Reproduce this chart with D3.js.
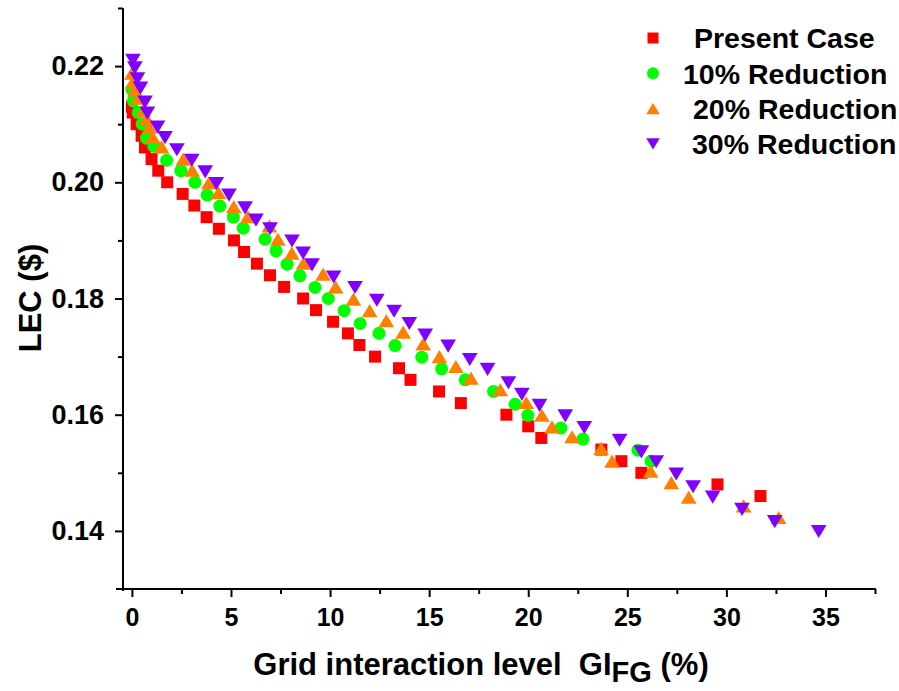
<!DOCTYPE html>
<html lang="en">
<head>
<meta charset="UTF-8"/>
<title>LEC vs grid interaction level</title>
<script src="https://cdn.jsdelivr.net/npm/d3@7"></script>
<style>
    html, body { margin: 0; background: #fff; }
    svg text { font-family: "Liberation Sans", Arial, sans-serif; font-weight: bold; fill: #000; }
    .axis path, .axis line { stroke: #000; stroke-width: 2; }
</style>
</head>
<body>
<div id="chart"></div>
<script>
    // series labels and colours
    const seriesNames = ["Present Case", "10% Reduction", "20% Reduction", "30% Reduction"];
    const seriesColors = ["#ff0000", "#00ff00", "#ff8000", "#8000ff"];
    const seriesShapes = ["square", "circle", "up", "down"];

    // values: GI_FG (%) and LEC ($)
    const presentX = [0, 0.04, 0.24, 0.49, 0.66, 0.99, 1.33, 1.78, 2.56, 3.15, 3.77, 4.39, 5.15, 5.66, 6.31,
        6.97, 7.68, 8.64, 9.29, 10.15, 10.9, 11.48, 12.27, 13.48, 14.06, 15.5, 16.6, 18.9, 20.0, 20.66,
        23.69, 24.7, 25.71, 29.55, 31.72];
    const presentY = [0.213, 0.212, 0.210, 0.208, 0.206, 0.204, 0.202, 0.200, 0.198, 0.196, 0.194, 0.192,
        0.190, 0.188, 0.186, 0.184, 0.182, 0.180, 0.178, 0.176, 0.174, 0.172, 0.170, 0.168, 0.166, 0.164,
        0.162, 0.160, 0.158, 0.156, 0.154, 0.152, 0.150, 0.148, 0.146];

    const red10X = [0, 0.07, 0.32, 0.52, 0.74, 1.11, 1.75, 2.47, 3.18, 3.80, 4.44, 5.12, 5.62, 6.72, 7.27,
        7.83, 8.48, 9.24, 9.91, 10.71, 11.52, 12.47, 13.28, 14.63, 15.63, 16.82, 18.25, 19.34, 19.98,
        21.65, 22.76, 25.54, 26.20];
    const red10Y = [0.216, 0.214, 0.212, 0.210, 0.2076, 0.2062, 0.2038, 0.2020, 0.2000, 0.1978, 0.1959,
        0.1940, 0.1921, 0.1902, 0.1882, 0.1859, 0.1839, 0.1819, 0.1800, 0.1779, 0.1757, 0.1740, 0.1719,
        0.1699, 0.1679, 0.1660, 0.1640, 0.1618, 0.1599, 0.1577, 0.1558, 0.1539, 0.1520];

    const red20X = [0, 0.05, 0.15, 0.32, 0.57, 0.74, 0.88, 1.05, 1.50, 2.59, 3.04, 3.88, 4.37, 5.14, 5.85,
        6.94, 7.37, 8.07, 8.66, 9.65, 10.28, 11.18, 12.0, 12.84, 13.69, 14.70, 15.52, 16.35, 17.11, 18.59,
        19.9, 20.69, 21.2, 22.21, 23.68, 24.23, 26.18, 27.22, 28.1, 30.87, 32.64];
    const red20Y = [0.2188, 0.2173, 0.2159, 0.2145, 0.2124, 0.2110, 0.2095, 0.2078, 0.2061, 0.2040, 0.2021,
        0.1999, 0.1982, 0.1958, 0.1941, 0.1925, 0.1902, 0.1878, 0.1861, 0.1842, 0.1820, 0.1799, 0.1779,
        0.1762, 0.1742, 0.1722, 0.1700, 0.1683, 0.1663, 0.1643, 0.1621, 0.1599, 0.1579, 0.1562, 0.1542,
        0.1520, 0.1503, 0.1483, 0.1458, 0.1443, 0.1423];

    const red30X = [0.05, 0.15, 0.28, 0.43, 0.66, 0.78, 1.29, 1.67, 2.27, 3.02, 3.70, 4.26, 4.90, 5.71, 6.26,
        6.97, 8.08, 8.64, 9.09, 10.18, 11.26, 12.36, 13.23, 14.0, 14.80, 15.96, 17.05, 17.95, 19.0, 19.68,
        20.57, 21.87, 22.83, 24.61, 25.71, 26.46, 27.47, 28.32, 29.31, 30.79, 32.44, 34.66];
    const red30Y = [0.2210, 0.2197, 0.2178, 0.2162, 0.2138, 0.2119, 0.2095, 0.2077, 0.2056, 0.2038, 0.2018,
        0.1998, 0.1978, 0.1956, 0.1935, 0.1920, 0.1899, 0.1878, 0.1858, 0.1837, 0.1819, 0.1797, 0.1778,
        0.1757, 0.1737, 0.1718, 0.1695, 0.1678, 0.1655, 0.1635, 0.1616, 0.1598, 0.1578, 0.1556, 0.1536,
        0.1519, 0.1498, 0.1476, 0.1458, 0.1437, 0.1416, 0.1399];

    const xMajorTicks = [0, 5, 10, 15, 20, 25, 30, 35];
    const xMinorTicks = [2.5, 7.5, 12.5, 17.5, 22.5, 27.5, 32.5, 37.5];
    const yMajorTicks = [0.14, 0.16, 0.18, 0.20, 0.22];
    const yMinorTicks = [0.15, 0.17, 0.19, 0.21, 0.23];

    const allX = [presentX, red10X, red20X, red30X];
    const allY = [presentY, red10Y, red20Y, red30Y];

    const width = 899, height = 691;

    const svg = d3.select("#chart").append("svg")
        .attr("width", width)
        .attr("height", height);

    const x = d3.scaleLinear().domain([-0.5, 37.5]).range([122, 875]);
    const y = d3.scaleLinear().domain([0.13, 0.23]).range([589, 8]);

    function markerPath(shape, s) {
        if (shape === "square") return `M${-s / 2},${-s / 2}h${s}v${s}h${-s}Z`;
        if (shape === "circle") return d3.symbol(d3.symbolCircle, Math.PI * (s / 2) * (s / 2))();
        const w = s * 0.56, h = s * 0.47;
        if (shape === "up") return `M0,${-h}L${w},${h}L${-w},${h}Z`;
        return `M0,${h}L${w},${-h}L${-w},${-h}Z`;
    }
    const markerSize = [12, 13, 14, 14];

    // axes
    const gx = svg.append("g").attr("class", "axis").attr("transform", `translate(0,${y.range()[0]})`);
    gx.call(d3.axisBottom(x).tickValues(xMajorTicks).tickSize(8).tickSizeOuter(0).tickPadding(11))
        .call(g => g.selectAll("text").style("font-size", "25px")
            .style("font-family", "'Liberation Sans Narrow', 'Arial Narrow', 'Liberation Sans', sans-serif")
            .attr("dy", "0.71em"));
    gx.append("g").call(d3.axisBottom(x).tickValues(xMinorTicks).tickSize(5).tickFormat(""))
        .call(g => g.select(".domain").remove());
    gx.selectAll("line").attr("stroke", "#000").attr("stroke-width", 2);
    gx.select(".domain").attr("d", `M116,0H876`);

    const gy = svg.append("g").attr("class", "axis").attr("transform", `translate(${x.range()[0] + 1},0)`);
    gy.call(d3.axisLeft(y).tickValues(yMajorTicks).tickSize(8).tickSizeOuter(0).tickPadding(11)
        .tickFormat(d3.format(".2f")))
        .call(g => g.selectAll("text").style("font-size", "27px"));
    gy.append("g").call(d3.axisLeft(y).tickValues(yMinorTicks).tickSize(5).tickFormat(""))
        .call(g => g.select(".domain").remove());
    gy.selectAll("line").attr("stroke", "#000").attr("stroke-width", 2);
    gy.select(".domain").attr("d", `M0,8V591`);

    // axis titles
    svg.append("text")
        .attr("transform", "translate(41,298) rotate(-90)")
        .attr("text-anchor", "middle")
        .style("font-size", "31px")
        .text("LEC ($)");

    const xTitle = svg.append("text")
        .attr("x", 481).attr("y", 675)
        .attr("text-anchor", "middle")
        .style("font-size", "31px")
        .attr("xml:space", "preserve");
    xTitle.append("tspan").text("Grid interaction level  GI");
    xTitle.append("tspan").attr("dy", 7).style("font-size", "29px").text("FG");
    xTitle.append("tspan").attr("dy", -7).text(" (%)");

    // points
    seriesNames.forEach((name, i) => {
        const pts = allX[i].map((v, k) => [v, allY[i][k]]);
        svg.append("g")
            .selectAll("path")
            .data(pts)
            .join("path")
            .attr("d", markerPath(seriesShapes[i], markerSize[i]))
            .attr("transform", d => `translate(${x(d[0])},${y(d[1])})`)
            .attr("fill", seriesColors[i]);
    });

    // legend
    const legendTextX = [694, 683, 693, 692];
    const legend = svg.append("g");
    seriesNames.forEach((name, i) => {
        const ly = 38 + i * 35.3;
        legend.append("path")
            .attr("d", markerPath(seriesShapes[i], i === 0 ? 11 : 12))
            .attr("transform", `translate(653,${ly})`)
            .attr("fill", seriesColors[i]);
        legend.append("text")
            .attr("x", legendTextX[i]).attr("y", ly)
            .attr("dy", "0.36em")
            .style("font-size", "28.5px")
            .text(name);
    });
</script>
</body>
</html>
